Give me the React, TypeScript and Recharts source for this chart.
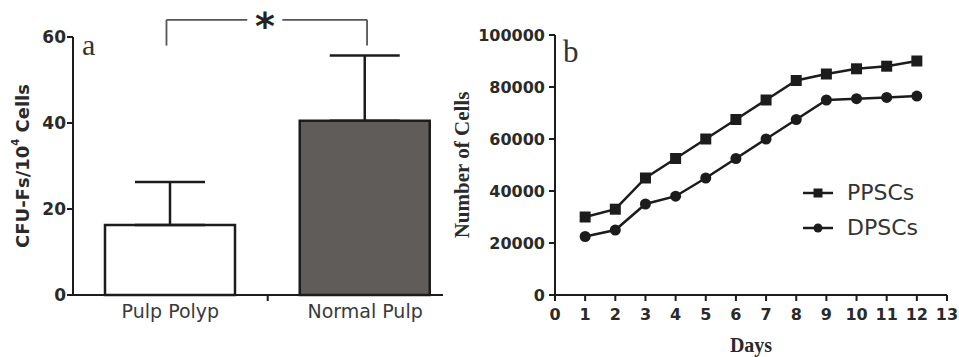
import React from "react";
import {
  BarChart,
  Bar,
  Cell,
  ErrorBar,
  XAxis,
  YAxis,
  ReferenceLine,
  ReferenceDot,
  LineChart,
  Line,
  Legend,
} from "recharts";

// panel a
const categories = ["Pulp Polyp", "Normal Pulp"];
const categoryPos = [0.5, 1.5];
const cfuMeans = [16.3, 40.5];
const cfuSd = [10, 15.2];
const barFills = ["#ffffff", "#5f5c59"];
const cfuTicks = [0, 20, 40, 60];
const bracketX = [0.48, 1.51];
const bracketGap = [0.895, 1.075];
const bracketY = [58, 64];

// panel b
const days = [1, 2, 3, 4, 5, 6, 7, 8, 9, 10, 11, 12];
const ppscs = [30000, 33000, 45000, 52500, 60000, 67500, 75000, 82500, 85000, 87000, 88000, 90000];
const dpscs = [22500, 25000, 35000, 38000, 45000, 52500, 60000, 67500, 75000, 75500, 76000, 76500];
const dayTicks = [0, 1, 2, 3, 4, 5, 6, 7, 8, 9, 10, 11, 12, 13];
const cellTicks = [0, 20000, 40000, 60000, 80000, 100000];

const INK = "#1c1c1c";
const SANS = "DejaVu Sans";
const SERIF = "Liberation Serif";

const barData = categories.map((name, i) => ({
  name,
  pos: categoryPos[i],
  mean: cfuMeans[i],
  err: [0, cfuSd[i]],
}));

const lineData = days.map((day, i) => ({ day, ppscs: ppscs[i], dpscs: dpscs[i] }));

const series = [
  { key: "ppscs", name: "PPSCs", shape: "square" },
  { key: "dpscs", name: "DPSCs", shape: "circle" },
];

function Marker({ cx, cy, shape, size = 11 }: { cx: number; cy: number; shape: string; size?: number }) {
  const h = size / 2;
  if (shape === "square") {
    return <rect x={cx - h} y={cy - h} width={size} height={size} fill={INK} />;
  }
  return <circle cx={cx} cy={cy} r={h} fill={INK} />;
}

function CategoryTick(props: any) {
  const { x, y, payload } = props;
  const idx = categoryPos.indexOf(payload.value);
  if (idx < 0) {
    return <line x1={x} x2={x} y1={y - 6} y2={y} stroke={INK} strokeWidth={2} />;
  }
  return (
    <text x={x} y={y + 17} textAnchor="middle" fill="#3a3a3a" fontSize={19} fontFamily={SANS}>
      {categories[idx]}
    </text>
  );
}

function CfuLabel(props: any) {
  const vb = props.viewBox;
  const cx = vb.x + 22;
  const cy = vb.y + vb.height / 2;
  return (
    <text
      x={cx}
      y={cy}
      transform={`rotate(-90 ${cx} ${cy})`}
      textAnchor="middle"
      dominantBaseline="central"
      fill="#2a2a2a"
      fontSize={18}
      fontWeight="bold"
      fontFamily={SANS}
    >
      CFU-Fs/10
      <tspan dy={-7} fontSize={10}>
        4
      </tspan>
      <tspan dy={7}> Cells</tspan>
    </text>
  );
}

function CellsLabel(props: any) {
  const vb = props.viewBox;
  const cx = vb.x + 22;
  const cy = vb.y + vb.height / 2;
  return (
    <text
      x={cx}
      y={cy}
      transform={`rotate(-90 ${cx} ${cy})`}
      textAnchor="middle"
      dominantBaseline="central"
      fill="#2a2a2a"
      fontSize={21}
      fontWeight="bold"
      fontFamily={SERIF}
    >
      Number of Cells
    </text>
  );
}

function DaysLabel(props: any) {
  const vb = props.viewBox;
  return (
    <text
      x={vb.x + vb.width / 2}
      y={vb.y + 57}
      textAnchor="middle"
      fill="#2a2a2a"
      fontSize={20}
      fontWeight="bold"
      fontFamily={SERIF}
    >
      Days
    </text>
  );
}

function StarLabel(props: any) {
  const vb = props.viewBox;
  return (
    <text x={vb.x} y={vb.y + 19} textAnchor="middle" fill="#222" fontSize={38} fontWeight="bold" fontFamily={SANS}>
      *
    </text>
  );
}

function GrowthLegend() {
  return (
    <div style={{ fontFamily: SANS }}>
      {series.map((s) => (
        <div key={s.key} style={{ display: "flex", alignItems: "center", height: 35 }}>
          <svg width={32} height={14}>
            <line x1={1} x2={31} y1={7} y2={7} stroke={INK} strokeWidth={2.5} />
            <Marker cx={16} cy={7} shape={s.shape} size={9} />
          </svg>
          <span style={{ marginLeft: 13, fontSize: 22, color: "#333" }}>{s.name}</span>
        </div>
      ))}
    </div>
  );
}

const axisLine = { stroke: INK, strokeWidth: 2 };
const tickLine = { stroke: INK, strokeWidth: 2 };
const tickFont = { fill: "#2a2a2a", fontWeight: "bold", fontFamily: SANS };

export default function App() {
  return (
    <div style={{ position: "absolute", left: 0, top: 0, width: 959, height: 357, background: "#fff" }}>
      <div style={{ position: "absolute", left: 0, top: 0 }}>
        <BarChart width={460} height={357} data={barData} margin={{ top: 37, right: 17, bottom: 32, left: 0 }}>
          <XAxis
            dataKey="pos"
            type="number"
            domain={[0, 1.9]}
            ticks={[0.5, 1, 1.5]}
            interval={0}
            height={30}
            tick={(p: any) => <CategoryTick {...p} />}
            tickLine={false}
            tickSize={6}
            tickMargin={0}
            axisLine={axisLine}
            allowDataOverflow
          />
          <YAxis
            domain={[0, 60]}
            ticks={cfuTicks}
            interval={0}
            width={73}
            tick={{ ...tickFont, fontSize: 17 }}
            tickSize={6}
            tickMargin={1}
            axisLine={axisLine}
            tickLine={tickLine}
            label={{ content: (p: any) => <CfuLabel {...p} /> }}
          />
          <Bar dataKey="mean" barSize={130} stroke={INK} strokeWidth={2.5} isAnimationActive={false}>
            {barData.map((d, i) => (
              <Cell key={d.name} fill={barFills[i]} />
            ))}
            <ErrorBar dataKey="err" width={35} stroke={INK} strokeWidth={2.5} direction="y" isAnimationActive={false} />
          </Bar>
          <ReferenceLine
            segment={[{ x: bracketX[0], y: bracketY[0] }, { x: bracketX[0], y: bracketY[1] }]}
            stroke="#555"
            strokeWidth={1.8}
            ifOverflow="visible"
          />
          <ReferenceLine
            segment={[{ x: bracketX[0], y: bracketY[1] }, { x: bracketGap[0], y: bracketY[1] }]}
            stroke="#555"
            strokeWidth={1.8}
            ifOverflow="visible"
          />
          <ReferenceLine
            segment={[{ x: bracketGap[1], y: bracketY[1] }, { x: bracketX[1], y: bracketY[1] }]}
            stroke="#555"
            strokeWidth={1.8}
            ifOverflow="visible"
          />
          <ReferenceLine
            segment={[{ x: bracketX[1], y: bracketY[1] }, { x: bracketX[1], y: bracketY[0] }]}
            stroke="#555"
            strokeWidth={1.8}
            ifOverflow="visible"
          />
          <ReferenceDot
            x={(bracketGap[0] + bracketGap[1]) / 2}
            y={bracketY[1]}
            r={0}
            ifOverflow="visible"
            label={{ content: (p: any) => <StarLabel {...p} /> }}
          />
        </BarChart>
      </div>

      <div style={{ position: "absolute", left: 440, top: 0 }}>
        <LineChart width={519} height={357} data={lineData} margin={{ top: 35, right: 12, bottom: 32, left: 0 }}>
          <XAxis
            dataKey="day"
            type="number"
            domain={[0, 13]}
            ticks={dayTicks}
            interval={0}
            height={30}
            tick={{ ...tickFont, fontSize: 16 }}
            tickSize={6}
            tickMargin={8}
            axisLine={axisLine}
            tickLine={tickLine}
            label={{ content: (p: any) => <DaysLabel {...p} /> }}
          />
          <YAxis
            domain={[0, 100000]}
            ticks={cellTicks}
            interval={0}
            width={115}
            tick={{ ...tickFont, fontSize: 16 }}
            tickSize={6}
            tickMargin={4}
            axisLine={axisLine}
            tickLine={tickLine}
            label={{ content: (p: any) => <CellsLabel {...p} /> }}
          />
          {series.map((s) => (
            <Line
              key={s.key}
              dataKey={s.key}
              name={s.name}
              stroke={INK}
              strokeWidth={2.5}
              isAnimationActive={false}
              dot={(p: any) => <Marker key={`${s.key}-${p.index}`} cx={p.cx} cy={p.cy} shape={s.shape} />}
              activeDot={false}
            />
          ))}
          <Legend
            layout="horizontal"
            verticalAlign="middle"
            align="center"
            content={() => <GrowthLegend />}
            wrapperStyle={{ left: 362, top: 175, width: 150 }}
          />
        </LineChart>
      </div>

      <svg width={959} height={357} style={{ position: "absolute", left: 0, top: 0, pointerEvents: "none" }}>
        <text x={82} y={55} fontSize={30} fontFamily={SERIF} fill="#333">
          a
        </text>
        <text x={563} y={62} fontSize={31} fontFamily={SERIF} fill="#333">
          b
        </text>
      </svg>
    </div>
  );
}
